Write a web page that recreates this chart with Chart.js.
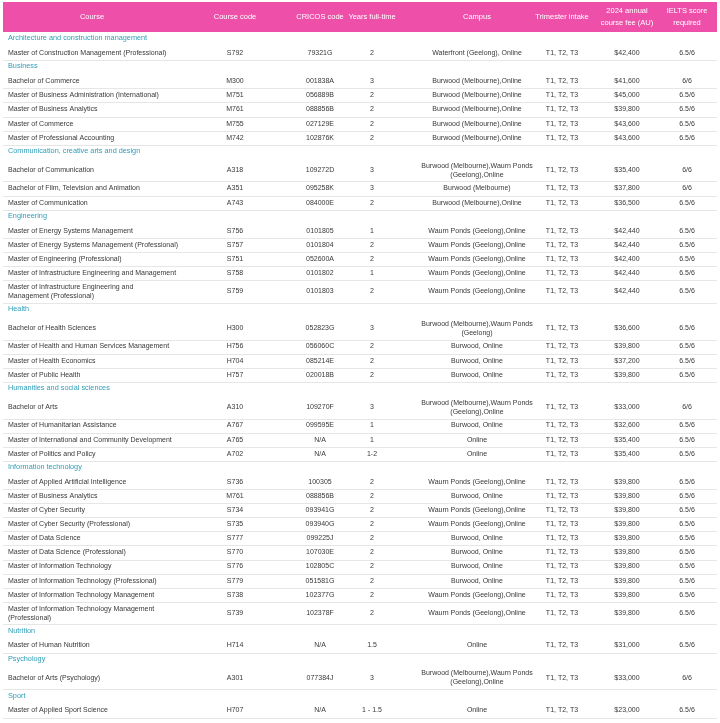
<!DOCTYPE html>
<html>
<head>
<meta charset="utf-8">
<script src="https://cdn.jsdelivr.net/npm/chart.js@4.4.0/dist/chart.umd.min.js"></script>
<style>
  html, body { margin: 0; padding: 0; background: #fff; }
  #wrap { width: 720px; height: 723px; }
</style>
</head>
<body>
<div id="wrap"><canvas id="myChart"></canvas></div>
<script>
// column headings
const headers = ['Course', 'Course code', 'CRICOS code', 'Years full-time', 'Campus', 'Trimester intake', '2024 annual\ncourse fee (AU)', 'IELTS score\nrequired'];

// study areas and how many courses sit under each
const sections = ['Architecture and construction management', 'Business', 'Communication, creative arts and design', 'Engineering', 'Health', 'Humanities and social sciences', 'Information technology', 'Nutrition', 'Psychology', 'Sport'];
const sectionSizes = [1, 5, 3, 5, 4, 4, 10, 1, 1, 1];

const courses = [
  'Master of Construction Management (Professional)',
  'Bachelor of Commerce',
  'Master of Business Administration (International)',
  'Master of Business Analytics',
  'Master of Commerce',
  'Master of Professional Accounting',
  'Bachelor of Communication',
  'Bachelor of Film, Television and Animation',
  'Master of Communication',
  'Master of Energy Systems Management',
  'Master of Energy Systems Management (Professional)',
  'Master of Engineering (Professional)',
  'Master of Infrastructure Engineering and Management',
  'Master of Infrastructure Engineering and\nManagement (Professional)',
  'Bachelor of Health Sciences',
  'Master of Health and Human Services Management',
  'Master of Health Economics',
  'Master of Public Health',
  'Bachelor of Arts',
  'Master of Humanitarian Assistance',
  'Master of International and Community Development',
  'Master of Politics and Policy',
  'Master of Applied Artificial Intelligence',
  'Master of Business Analytics',
  'Master of Cyber Security',
  'Master of Cyber Security (Professional)',
  'Master of Data Science',
  'Master of Data Science (Professional)',
  'Master of Information Technology',
  'Master of Information Technology (Professional)',
  'Master of Information Technology Management',
  'Master of Information Technology Management\n(Professional)',
  'Master of Human Nutrition',
  'Bachelor of Arts (Psychology)',
  'Master of Applied Sport Science'
];
const courseCodes = ['S792', 'M300', 'M751', 'M761', 'M755', 'M742', 'A318', 'A351', 'A743', 'S756', 'S757', 'S751', 'S758', 'S759', 'H300', 'H756', 'H704', 'H757', 'A310', 'A767', 'A765', 'A702', 'S736', 'M761', 'S734', 'S735', 'S777', 'S770', 'S776', 'S779', 'S738', 'S739', 'H714', 'A301', 'H707'];
const cricosCodes = ['79321G', '001838A', '056889B', '088856B', '027129E', '102876K', '109272D', '095258K', '084000E', '0101805', '0101804', '052600A', '0101802', '0101803', '052823G', '056060C', '085214E', '020018B', '109270F', '099595E', 'N/A', 'N/A', '100305', '088856B', '093941G', '093940G', '099225J', '107030E', '102805C', '051581G', '102377G', '102378F', 'N/A', '077384J', 'N/A'];
const yearsFullTime = ['2', '3', '2', '2', '2', '2', '3', '3', '2', '1', '2', '2', '1', '2', '3', '2', '2', '2', '3', '1', '1', '1-2', '2', '2', '2', '2', '2', '2', '2', '2', '2', '2', '1.5', '3', '1 - 1.5'];
const campuses = [
  'Waterfront (Geelong), Online',
  'Burwood (Melbourne),Online', 'Burwood (Melbourne),Online', 'Burwood (Melbourne),Online', 'Burwood (Melbourne),Online', 'Burwood (Melbourne),Online',
  'Burwood (Melbourne),Waurn Ponds\n(Geelong),Online', 'Burwood (Melbourne)', 'Burwood (Melbourne),Online',
  'Waurn Ponds (Geelong),Online', 'Waurn Ponds (Geelong),Online', 'Waurn Ponds (Geelong),Online', 'Waurn Ponds (Geelong),Online', 'Waurn Ponds (Geelong),Online',
  'Burwood (Melbourne),Waurn Ponds\n(Geelong)', 'Burwood, Online', 'Burwood, Online', 'Burwood, Online',
  'Burwood (Melbourne),Waurn Ponds\n(Geelong),Online', 'Burwood, Online', 'Online', 'Online',
  'Waurn Ponds (Geelong),Online', 'Burwood, Online', 'Waurn Ponds (Geelong),Online', 'Waurn Ponds (Geelong),Online', 'Burwood, Online',
  'Burwood, Online', 'Burwood, Online', 'Burwood, Online', 'Waurn Ponds (Geelong),Online', 'Waurn Ponds (Geelong),Online',
  'Online',
  'Burwood (Melbourne),Waurn Ponds\n(Geelong),Online',
  'Online'
];
const intakes = Array(35).fill('T1, T2, T3');
const annualFees = [42400, 41600, 45000, 39800, 43600, 43600, 35400, 37800, 36500, 42440, 42440, 42400, 42440, 42440, 36600, 39800, 37200, 39800, 33000, 32600, 35400, 35400, 39800, 39800, 39800, 39800, 39800, 39800, 39800, 39800, 39800, 39800, 31000, 33000, 23000];
const ieltsScores = ['6.5/6', '6/6', '6.5/6', '6.5/6', '6.5/6', '6.5/6', '6/6', '6/6', '6.5/6', '6.5/6', '6.5/6', '6.5/6', '6.5/6', '6.5/6', '6.5/6', '6.5/6', '6.5/6', '6.5/6', '6/6', '6.5/6', '6.5/6', '6.5/6', '6.5/6', '6.5/6', '6.5/6', '6.5/6', '6.5/6', '6.5/6', '6.5/6', '6.5/6', '6.5/6', '6.5/6', '6.5/6', '6/6', '6.5/6'];

// layout (in scale units)
const colX = [8, 235, 320, 372, 477, 562, 627, 687];
const tableLeft = 3, tableRight = 717;
const headerTop = 2, headerBottom = 32;
const lineH = 8.5, cellPad = 2.8;

const PINK = '#ee4fa8';
const TEAL = '#2e9db8';
const TEXT = '#383838';
const FONT = '"Liberation Sans", Arial, sans-serif';

// build the row list
let rows = [];
let k = 0;
for (let s = 0; s < sections.length; s++) {
  rows.push({ section: sections[s] });
  for (let n = 0; n < sectionSizes[s]; n++) {
    rows.push({
      cells: [courses[k], courseCodes[k], cricosCodes[k], yearsFullTime[k], campuses[k], intakes[k],
        '$' + annualFees[k].toLocaleString('en-US'), ieltsScores[k]]
    });
    k++;
  }
}
let yy = headerBottom;
rows.forEach(r => {
  let lines = 1;
  if (r.cells) r.cells.forEach(c => { lines = Math.max(lines, c.split('\n').length); });
  r.top = yy;
  r.bottom = yy + lines * lineH + cellPad * 2;
  yy = r.bottom;
});

const tablePlugin = {
  id: 'tablePlugin',
  afterDraw(chart) {
    const ctx = chart.ctx;
    const xs = chart.scales.x, ys = chart.scales.y;
    const px = v => xs.getPixelForValue(v);
    const py = v => ys.getPixelForValue(v);
    ctx.save();

    // header band
    ctx.fillStyle = PINK;
    ctx.fillRect(px(tableLeft), py(headerTop), px(tableRight) - px(tableLeft), py(headerBottom) - py(headerTop));
    ctx.fillStyle = '#ffffff';
    ctx.font = '7.5px ' + FONT;
    ctx.textBaseline = 'middle';
    ctx.textAlign = 'center';
    const hMid = (headerTop + headerBottom) / 2;
    headers.forEach((h, i) => {
      const parts = h.split('\n');
      const cx = i === 0 ? 92 : colX[i];
      parts.forEach((p, j) => {
        ctx.fillText(p, px(cx), py(hMid + (j - (parts.length - 1) / 2) * 12));
      });
    });

    // body rows
    rows.forEach(r => {
      const mid = (r.top + r.bottom) / 2;
      if (r.section) {
        ctx.fillStyle = TEAL;
        ctx.font = '7.3px ' + FONT;
        ctx.textAlign = 'left';
        ctx.fillText(r.section, px(colX[0]), py(mid - 0.8));
        return;
      }
      ctx.fillStyle = TEXT;
      ctx.font = '7px ' + FONT;
      r.cells.forEach((c, i) => {
        const parts = c.split('\n');
        ctx.textAlign = i === 0 ? 'left' : 'center';
        parts.forEach((p, j) => {
          ctx.fillText(p, px(colX[i]), py(mid + (j - (parts.length - 1) / 2) * lineH * 1.05));
        });
      });
      ctx.strokeStyle = '#e6e6e6';
      ctx.lineWidth = 1;
      ctx.beginPath();
      ctx.moveTo(px(tableLeft), Math.round(py(r.bottom)) + 0.5);
      ctx.lineTo(px(tableRight), Math.round(py(r.bottom)) + 0.5);
      ctx.stroke();
    });
    ctx.restore();
  }
};

const config = {
  type: 'scatter',
  data: { datasets: [{ data: [], pointRadius: 0 }] },
  options: {
    responsive: true,
    maintainAspectRatio: false,
    animation: false,
    layout: { padding: 0 },
    plugins: { legend: { display: false }, tooltip: { enabled: false } },
    scales: {
      x: { type: 'linear', min: 0, max: 720, display: false },
      y: { type: 'linear', min: 0, max: 723, reverse: true, display: false }
    }
  },
  plugins: [tablePlugin]
};

const myChart = new Chart(document.getElementById('myChart'), config);
</script>
</body>
</html>
